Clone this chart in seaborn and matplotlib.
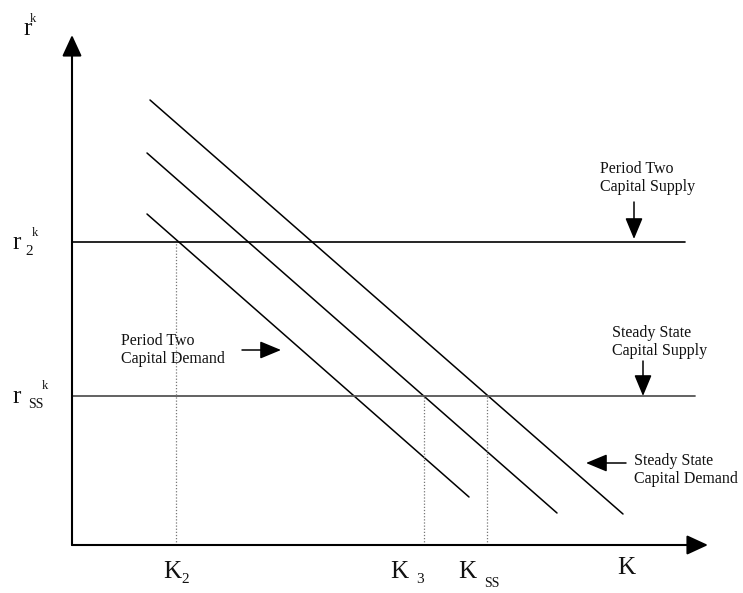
import numpy as np
import pandas as pd
import seaborn as sns
import matplotlib.pyplot as plt

# Values (origin at the axes corner, pixel-like units)
demand_names = ['Period Two Demand', 'Middle Demand', 'Steady State Demand']
demand_k = [[75, 397], [75, 485], [78, 551]]
demand_r = [[331, 48], [392, 32], [445, 31]]

supply_names = ['Period Two Supply', 'Steady State Supply']
supply_r = [303, 149]
supply_end = [613, 623]

k_marks = [104, 352, 415]          # K2, K3, Kss
k_mark_r = [303, 149, 149]         # where each dotted line meets a supply line

axis_k_end = 636
axis_r_end = 510

sns.set_theme(style='white')
plt.rcParams['font.family'] = ['Liberation Serif', 'DejaVu Serif']

fig = plt.figure(figsize=(7.43, 5.93), dpi=100)
ax = fig.add_axes([0, 0, 1, 1])
ax.set_xlim(-72, 671)
ax.set_ylim(-48, 545)
ax.axis('off')

# demand curves
rows = []
for name, ks, rs in zip(demand_names, demand_k, demand_r):
    for k, r in zip(ks, rs):
        rows.append({'curve': name, 'K': k, 'r': r})
demand = pd.DataFrame(rows)
sns.lineplot(data=demand, x='K', y='r', units='curve', estimator=None,
             color='black', lw=1.1, ax=ax, legend=False)

# supply curves
sns.lineplot(x=[0, supply_end[0]], y=[supply_r[0]] * 2, color='black', lw=1.2, ax=ax)
sns.lineplot(x=[0, supply_end[1]], y=[supply_r[1]] * 2, color='#555555', lw=1.3, ax=ax)

# dotted drop lines
for k, r in zip(k_marks, k_mark_r):
    ax.plot([k, k], [0, r], color='#777777', lw=0.9, linestyle=(0, (1, 1.5)))

# axes with arrowheads
head = dict(arrowstyle='-|>,head_length=0.65,head_width=0.3', color='black',
            lw=1.5, mutation_scale=20, shrinkA=0, shrinkB=0)
ax.annotate('', xy=(0, axis_r_end), xytext=(0, 0), arrowprops=head)
ax.annotate('', xy=(axis_k_end, 0), xytext=(0, 0), arrowprops=head)

# pointer arrows
ptr = dict(arrowstyle='-|>,head_length=0.65,head_width=0.27', color='black',
           lw=1.1, mutation_scale=20, shrinkA=0, shrinkB=0)
ax.annotate('', xy=(562, 306), xytext=(562, 343), arrowprops=ptr)
ax.annotate('', xy=(571, 149), xytext=(571, 184), arrowprops=ptr)
ax.annotate('', xy=(514, 82), xytext=(554, 82), arrowprops=ptr)
ax.annotate('', xy=(209, 195), xytext=(170, 195), arrowprops=ptr)

# curve labels
lab = dict(fontsize=11.5, ha='left', va='center', linespacing=1.15, color='#111111')
ax.text(528, 367, 'Period Two\nCapital Supply', **lab)
ax.text(540, 203, 'Steady State\nCapital Supply', **lab)
ax.text(562, 75, 'Steady State\nCapital Demand', **lab)
ax.text(49, 195, 'Period Two\nCapital Demand', **lab)

# axis symbols
big = dict(fontsize=18, ha='left', va='baseline', color='#111111')
sub = dict(fontsize=11, ha='left', va='baseline', color='#111111')
sup = dict(fontsize=9, ha='left', va='baseline', color='#111111')
ax.text(-49, 510, 'r', **big)
ax.text(-42, 523, 'k', **sup)
ax.text(-60, 296, 'r', **big)
ax.text(-47, 290, '2', **sub)
ax.text(-40, 309, 'k', **sup)
ax.text(-60, 142, 'r', **big)
ax.text(-44, 137, 'SS', fontsize=10, ha='left', va='baseline', color='#111111')
ax.text(-30, 156, 'k', **sup)

ax.text(91, -33, 'K', **big)
ax.text(109, -38, '2', **sub)
ax.text(318, -33, 'K', **big)
ax.text(344, -38, '3', **sub)
ax.text(386, -33, 'K', **big)
ax.text(412, -42, 'SS', fontsize=10, ha='left', va='baseline', color='#111111')
ax.text(545, -29, 'K', **big)

plt.savefig('out.png', dpi=100)
